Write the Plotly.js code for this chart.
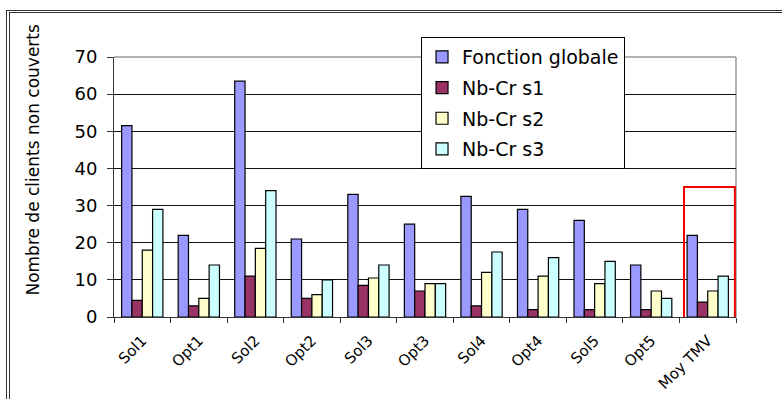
<!DOCTYPE html>
<html>
<head>
<meta charset="utf-8">
<script src="https://cdn.plot.ly/plotly-3.0.1.min.js"></script>
<style>
  html, body { margin: 0; padding: 0; background: #fff; }
  #wrap { position: relative; width: 782px; height: 399px; overflow: hidden; }
  #frame { position: absolute; left: 6px; top: 10px; right: -10px; bottom: -10px;
           border-left: 4px double #333; border-top: 3px double #333; pointer-events: none; }
  #chart { position: absolute; left: 0; top: 0; width: 782px; height: 399px; }
</style>
</head>
<body>
<div id="wrap">
  <div id="chart"></div>
  <div id="frame"></div>
</div>
<script>
const categories = ["Sol1", "Opt1", "Sol2", "Opt2", "Sol3", "Opt3", "Sol4", "Opt4", "Sol5", "Opt5", "Moy TMV"];
const seriesNames = ["Fonction globale", "Nb-Cr s1", "Nb-Cr s2", "Nb-Cr s3"];
const fonctionGlobale = [51.5, 22, 63.5, 21, 33, 25, 32.5, 29, 26, 14, 22];
const nbCrS1 = [4.5, 3, 11, 5, 8.5, 7, 3, 2, 2, 2, 4];
const nbCrS2 = [18, 5, 18.5, 6, 10.5, 9, 12, 11, 9, 7, 7];
const nbCrS3 = [29, 14, 34, 10, 14, 9, 17.5, 16, 15, 5, 11];
const yTicks = [0, 10, 20, 30, 40, 50, 60, 70];
const yTitle = "Nombre de clients non couverts";

const colors = ["#9999FF", "#993366", "#FFFFCC", "#CCFFFF"];
const allValues = [fonctionGlobale, nbCrS1, nbCrS2, nbCrS3];
const FONT = "DejaVu Sans, Liberation Sans, Arial, sans-serif";

const traces = allValues.map((vals, i) => ({
  type: "bar",
  name: seriesNames[i],
  x: categories,
  y: vals,
  legendgroup: "g" + i,
  marker: { color: colors[i], line: { color: "#000", width: 1.2 } }
}));

const layout = {
  width: 782, height: 399,
  margin: { l: 114, r: 46, t: 57, b: 82 },
  paper_bgcolor: "#fff", plot_bgcolor: "#fff",
  font: { family: FONT, color: "#000" },
  barmode: "group",
  bargap: 0.27,
  bargroupgap: 0,
  showlegend: true,
  legend: {
    x: 0.4936, y: 1.077, xanchor: "left", yanchor: "top",
    bgcolor: "#fff", bordercolor: "#000", borderwidth: 1,
    font: { size: 19, family: FONT },
    traceorder: "grouped", tracegroupgap: 3,
    entrywidth: 190, entrywidthmode: "pixels"
  },
  xaxis: {
    type: "category",
    tickangle: -45,
    tickfont: { size: 15 },
    ticks: "outside", ticklen: 5, tickcolor: "#333", tickson: "boundaries",
    ticklabelstandoff: 8,
    showline: true, linecolor: "#333", linewidth: 1,
    showgrid: false, zeroline: false
  },
  yaxis: {
    range: [0, 70],
    tickvals: yTicks,
    tickfont: { size: 18 },
    ticks: "outside", ticklen: 6, tickcolor: "#333",
    ticklabelstandoff: 6,
    showline: true, linecolor: "#333", linewidth: 1,
    showgrid: true, gridcolor: "#111", gridwidth: 1,
    zeroline: false,
    automargin: false
  },
  annotations: [
    { text: yTitle, xref: "paper", yref: "paper", x: -0.130, y: 0.606,
      xanchor: "center", yanchor: "middle", textangle: -90, showarrow: false,
      font: { size: 17, family: FONT } }
  ],
  shapes: [
    { type: "line", xref: "paper", yref: "paper", x0: 0, x1: 1, y0: 1, y1: 1,
      line: { color: "#999", width: 1.5 }, layer: "between" },
    { type: "line", xref: "paper", yref: "paper", x0: 1, x1: 1, y0: 0, y1: 1,
      line: { color: "#999", width: 1.5 }, layer: "between" },
    { type: "rect", xref: "x", yref: "y", x0: 9.58, x1: 10.48, y0: -3, y1: 35,
      line: { color: "#ee0000", width: 2 }, layer: "above" }
  ]
};

Plotly.newPlot("chart", traces, layout, { displayModeBar: false, staticPlot: true });
</script>
</body>
</html>
